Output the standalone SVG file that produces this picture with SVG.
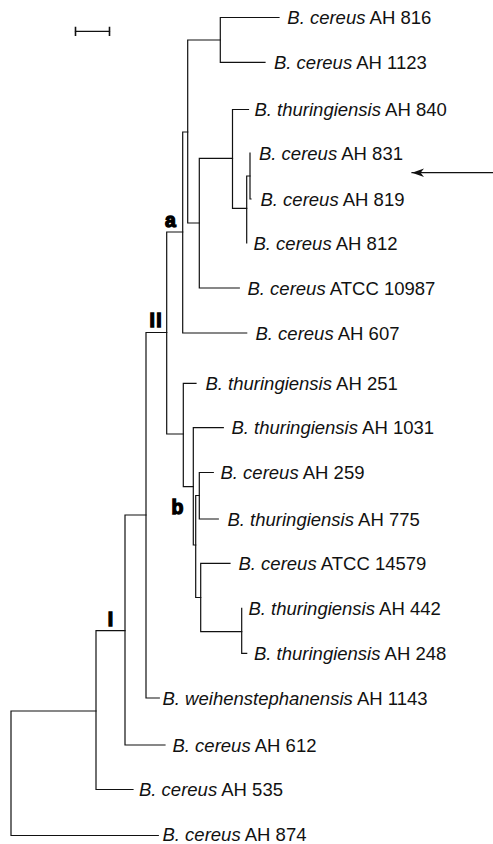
<svg xmlns="http://www.w3.org/2000/svg" width="493" height="844" viewBox="0 0 493 844">
  <style>
    .br { fill: none; stroke: #111; stroke-width: 1.2; stroke-linecap: square; }
    .lbl { font-family: "Liberation Sans", Arial, sans-serif; font-size: 18.5px; fill: #111; }
    .lbl .sp { font-style: italic; }
    .clade { font-family: "Liberation Sans", Arial, sans-serif; font-size: 19.5px; font-weight: bold; fill: #000; stroke: #000; stroke-width: 1.3; }
  </style>
  <defs>
    <marker id="head" viewBox="0 0 12 9" refX="12" refY="4.5" markerWidth="12" markerHeight="9" markerUnits="userSpaceOnUse" orient="auto">
      <path d="M0,0.3 L12,4.5 L0,8.7 L3.4,4.5 Z" fill="#111"/>
    </marker>
  </defs>
  <rect width="493" height="844" fill="#fff"/>

  <!-- scale bar -->
  <g id="scale-bar" class="br">
    <path d="M75.5,31.3 H109.5"/>
    <path d="M75.5,27.5 V35.3 M109.5,27.5 V35.3" stroke-width="1.6"/>
  </g>

  <!-- branches of the tree -->
  <g id="connectors" class="br">
    <!-- root -->
    <path d="M96,711 H11 V835.5 H158.3"/>
    <!-- node I -->
    <path d="M125,630.7 H96 V789.5 H133"/>
    <path d="M146,515 H125 V745 H165"/>
    <!-- node II -->
    <path d="M166.7,332.5 H146 V698 H159.3"/>
    <path d="M182.7,232 H166.7 V434 H183.3"/>
    <!-- node a -->
    <path d="M187.7,132 H182.7 V333 H246.7"/>
    <path d="M220.3,40 H187.7 V223 H199.3"/>
    <path d="M279,17.5 H220.3 V62.3 H265"/>
    <path d="M232.5,158.3 H199.3 V288 H239.3"/>
    <path d="M248.5,109.5 H232.5 V208.3 H246.7"/>
    <path d="M250,176 H246.7 V243"/>
    <path d="M250,153 V199 H251"/>
    <!-- node b side -->
    <path d="M196,383.3 H183.3 V486.7 H193.3"/>
    <path d="M223.3,427.7 H193.3 V545 H195.7"/>
    <path d="M199.3,495.5 H195.7 V597.5 H200.7"/>
    <path d="M213.3,472.5 H199.3 V519 H218.3"/>
    <path d="M230,563.3 H200.7 V631.7 H241.7"/>
    <path d="M241.7,608.3 V653.3 H246.7"/>
  </g>

  <!-- clade markers -->
  <g id="clade-a"><text class="clade" x="165" y="227">a</text></g>
  <g id="clade-b"><text class="clade" x="171.5" y="514.3">b</text></g>
  <g id="clade-I"><text class="clade" x="107.8" y="626.3">I</text></g>
  <g id="clade-II"><text class="clade" x="149.5" y="327.2" letter-spacing="1.3">II</text></g>

  <!-- leaves -->
  <g id="ah816"><text class="lbl" x="287.3" y="24"><tspan class="sp">B. cereus</tspan> AH 816</text></g>
  <g id="ah1123"><text class="lbl" x="274" y="68.8"><tspan class="sp">B. cereus</tspan> AH 1123</text></g>
  <g id="ah840"><text class="lbl" x="254.5" y="116"><tspan class="sp">B. thuringiensis</tspan> AH 840</text></g>
  <g id="ah831"><text class="lbl" x="259" y="159.5"><tspan class="sp">B. cereus</tspan> AH 831</text></g>
  <g id="ah819"><text class="lbl" x="260.5" y="205.5"><tspan class="sp">B. cereus</tspan> AH 819</text></g>
  <g id="ah812"><text class="lbl" x="253.5" y="249.5"><tspan class="sp">B. cereus</tspan> AH 812</text></g>
  <g id="atcc10987"><text class="lbl" x="247.5" y="294.5"><tspan class="sp">B. cereus</tspan> ATCC 10987</text></g>
  <g id="ah607"><text class="lbl" x="255.5" y="339.5"><tspan class="sp">B. cereus</tspan> AH 607</text></g>
  <g id="ah251"><text class="lbl" x="205.5" y="389.8"><tspan class="sp">B. thuringiensis</tspan> AH 251</text></g>
  <g id="ah1031"><text class="lbl" x="231.5" y="434.2"><tspan class="sp">B. thuringiensis</tspan> AH 1031</text></g>
  <g id="ah259"><text class="lbl" x="220.5" y="479"><tspan class="sp">B. cereus</tspan> AH 259</text></g>
  <g id="ah775"><text class="lbl" x="227.5" y="525.5"><tspan class="sp">B. thuringiensis</tspan> AH 775</text></g>
  <g id="atcc14579"><text class="lbl" x="238.5" y="569.8"><tspan class="sp">B. cereus</tspan> ATCC 14579</text></g>
  <g id="ah442"><text class="lbl" x="248.5" y="614.8"><tspan class="sp">B. thuringiensis</tspan> AH 442</text></g>
  <g id="ah248"><text class="lbl" x="254" y="659.8"><tspan class="sp">B. thuringiensis</tspan> AH 248</text></g>
  <g id="ah1143"><text class="lbl" x="162.5" y="704.5"><tspan class="sp">B. weihenstephanensis</tspan> AH 1143</text></g>
  <g id="ah612"><text class="lbl" x="172.5" y="751.5"><tspan class="sp">B. cereus</tspan> AH 612</text></g>
  <g id="ah535"><text class="lbl" x="139" y="796"><tspan class="sp">B. cereus</tspan> AH 535</text></g>
  <g id="ah874"><text class="lbl" x="162.5" y="841"><tspan class="sp">B. cereus</tspan> AH 874</text></g>

  <!-- pointer to AH 831 / AH 819 -->
  <g id="pointer">
    <path class="br" d="M493,172.7 H412" marker-end="url(#head)"/>
  </g>
</svg>
